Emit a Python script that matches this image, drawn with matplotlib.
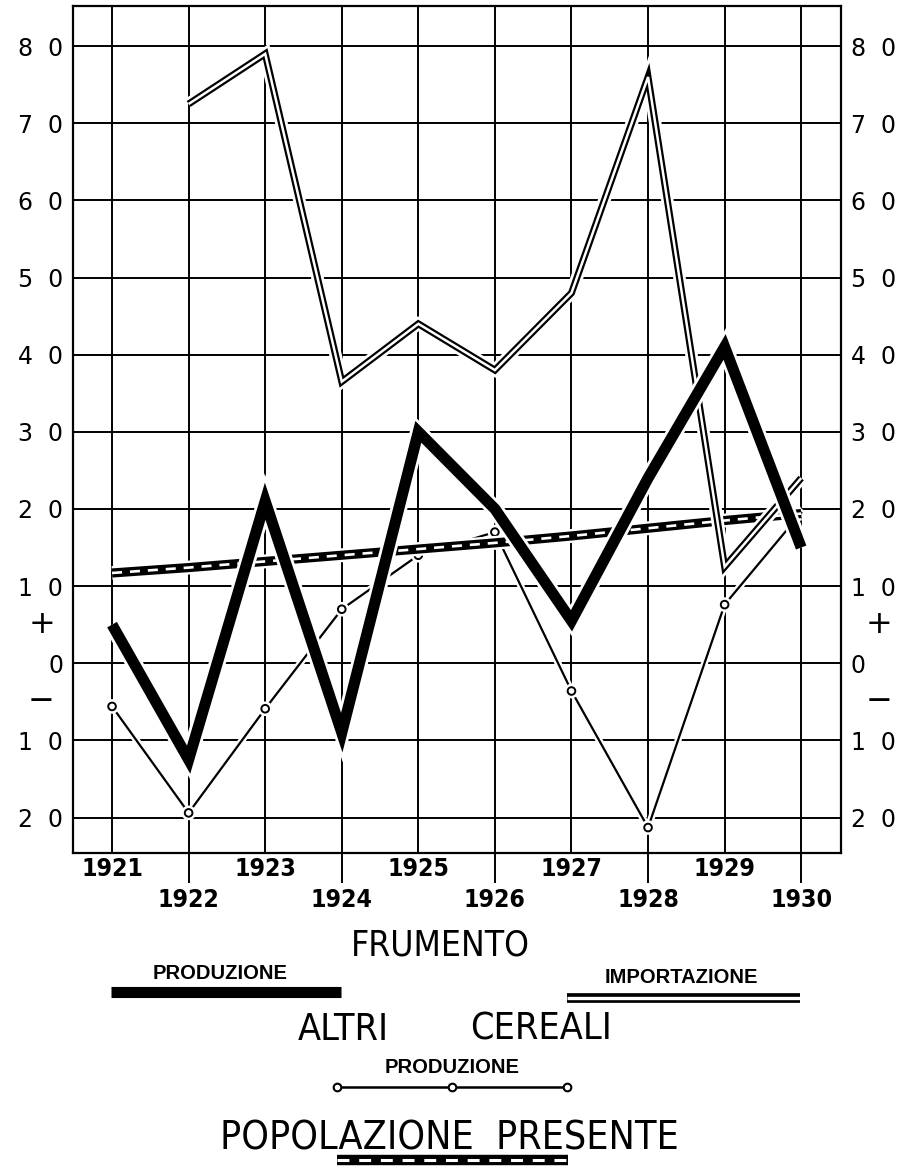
import numpy as np
import matplotlib
matplotlib.use("Agg")
import matplotlib.pyplot as plt
import matplotlib.patheffects as pe

# ---------------- data ----------------
years = [1921, 1922, 1923, 1924, 1925, 1926, 1927, 1928, 1929, 1930]
frumento_produzione = [5.0, -12.5, 21.0, -9.0, 30.0, 20.0, 5.5, 24.0, 41.0, 15.0]
frumento_importazione = [np.nan, 72.5, 79.0, 36.5, 44.0, 38.0, 48.0, 76.0, 12.5, 24.0]
altri_cereali_produzione = [-5.6, -19.4, -5.9, 7.0, 14.0, 17.0, -3.6, -21.3, 7.6, 19.5]
popolazione_presente = [11.7, 12.4, 13.2, 14.0, 14.8, 15.6, 16.5, 17.5, 18.5, 19.4]

y_ticks = [-20, -10, 0, 10, 20, 30, 40, 50, 60, 70, 80]
y_tick_labels = ["2  0", "1  0", "0", "1  0", "2  0", "3  0", "4  0", "5  0", "6  0", "7  0", "8  0"]
sign_values = [5, -5]
sign_labels = ["+", "\u2212"]
year_labels = [str(y) for y in years]

title_main = "FRUMENTO"
label_prod = "PRODUZIONE"
label_imp = "IMPORTAZIONE"
title_altri = ["ALTRI", "CEREALI"]
title_pop = "POPOLAZIONE  PRESENTE"

TITLE_FONT = dict(family=["DejaVu Sans"], fontstretch="condensed")
SMALL_FONT = dict(family=["Liberation Sans", "DejaVu Sans"], weight="bold")

# ---------------- figure ----------------
W, H = 914, 1166
fig = plt.figure(figsize=(W / 100, H / 100), dpi=100)
fig.patch.set_facecolor("white")
ax = fig.add_axes([73 / W, 1 - 853 / H, (841 - 73) / W, (853 - 6) / H])
ax.set_xlim(1920.49, 1930.52)
ax.set_ylim(-24.6, 85.2)

for s in ax.spines.values():
    s.set_linewidth(1.6)
    s.set_color("black")

# grid
for yv in y_ticks:
    ax.axhline(yv, color="black", lw=1.4, zorder=1)
for xv in years:
    ax.axvline(xv, color="black", lw=1.4, zorder=1)


def halo(w):
    return [pe.Stroke(linewidth=w, foreground="white"), pe.Normal()]


# altri cereali produzione (last marker hidden under the thick line in the original)
ax.plot(years, altri_cereali_produzione, color="black", lw=1.6, marker="o", ms=5.5,
        mfc="white", mec="black", mew=1.4, markevery=list(range(len(years) - 1)),
        zorder=3, path_effects=halo(5))

# popolazione presente
ax.plot(years, popolazione_presente, color="black", lw=6.6, solid_capstyle="butt",
        zorder=4, path_effects=halo(10))
ax.plot(years, popolazione_presente, color="white", lw=1.9, dashes=(3.8, 3.0),
        dash_capstyle="butt", zorder=4.1)

# frumento importazione (double line)
ax.plot(years, frumento_importazione, color="black", lw=5.0, solid_joinstyle="miter",
        solid_capstyle="butt", zorder=5, path_effects=halo(9))
ax.plot(years, frumento_importazione, color="white", lw=1.8, solid_joinstyle="miter",
        solid_capstyle="butt", zorder=5.1)

# frumento produzione (thick)
ax.plot(years, frumento_produzione, color="black", lw=8, solid_joinstyle="miter",
        solid_capstyle="butt", zorder=6, path_effects=halo(12))

# x ticks: even years long ticks, odd years labels higher
ax.set_xticks(years[1::2], year_labels[1::2])
ax.set_xticks(years[0::2], year_labels[0::2], minor=True)
ax.tick_params(axis="x", which="major", direction="out", length=21.5, width=1.4,
               pad=3.5, labelsize=17.8)
ax.tick_params(axis="x", which="minor", length=0, pad=3, labelsize=17.8)
for lbl in ax.get_xticklabels(which="both"):
    lbl.set_fontstretch("condensed")
    lbl.set_fontweight("bold")

# y ticks on both sides
ax.set_yticks(y_ticks, y_tick_labels)
ax.tick_params(axis="y", which="major", length=0, pad=7, labelsize=17,
               left=True, right=True, labelleft=True, labelright=True)
ax.yaxis.set_minor_locator(matplotlib.ticker.NullLocator())

for v, s in zip(sign_values, sign_labels):
    ax.annotate(s, xy=(0, v), xycoords=ax.get_yaxis_transform(), xytext=(-13, 0),
                textcoords="offset points", ha="right", va="center", fontsize=23,
                annotation_clip=False)
    ax.annotate(s, xy=(1, v), xycoords=ax.get_yaxis_transform(), xytext=(18, 0),
                textcoords="offset points", ha="left", va="center", fontsize=23,
                annotation_clip=False)

# ---------------- legend block (pixel layout) ----------------
lg = fig.add_axes([0, 0, 1, 1])
lg.set_xlim(0, W)
lg.set_ylim(H, 0)
lg.axis("off")
lg.patch.set_alpha(0)

lg.text(440, 955, title_main, ha="center", va="baseline", fontsize=25.4, **TITLE_FONT)

lg.text(220, 979, label_prod, ha="center", va="baseline", fontsize=14.5, **SMALL_FONT)
lg.plot([111, 341], [992, 992], color="black", lw=8, solid_capstyle="butt")

lg.text(681, 983, label_imp, ha="center", va="baseline", fontsize=14.5, **SMALL_FONT)
lg.plot([567, 800], [998, 998], color="black", lw=7, solid_capstyle="butt")
lg.plot([567, 800], [998, 998], color="white", lw=2.4, solid_capstyle="butt")

lg.text(343, 1040, title_altri[0], ha="center", va="baseline", fontsize=27, **TITLE_FONT)
lg.text(541, 1040, title_altri[1], ha="center", va="baseline", fontsize=27, **TITLE_FONT)

lg.text(452, 1073, label_prod, ha="center", va="baseline", fontsize=14.5, **SMALL_FONT)
lg.plot([337, 452, 567], [1087, 1087, 1087], color="black", lw=1.8, marker="o", ms=5.5,
        mfc="white", mec="black", mew=1.5)

lg.text(449, 1150, title_pop, ha="center", va="baseline", fontsize=28.2, **TITLE_FONT)
lg.plot([337, 568], [1160, 1160], color="black", lw=7.5, solid_capstyle="butt")
lg.plot([337, 568], [1160, 1160], color="white", lw=2.2, dashes=(3.9, 3.2),
        dash_capstyle="butt")

fig.savefig("out.png", dpi=100, facecolor="white")
